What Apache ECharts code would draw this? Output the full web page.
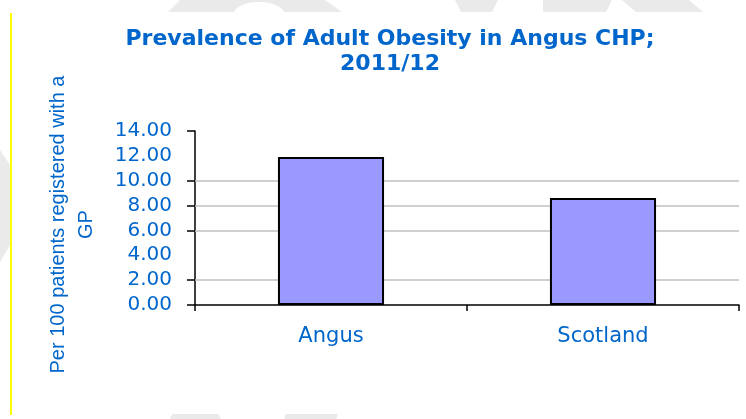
<!DOCTYPE html>
<html>
<head>
<meta charset="utf-8">
<title>Prevalence of Adult Obesity in Angus CHP; 2011/12</title>
<script src="https://cdn.jsdelivr.net/npm/echarts@6/dist/echarts.min.js"></script>
<style>
  html, body { margin: 0; padding: 0; background: #ffffff; }
  #chart { width: 746px; height: 419px; }
</style>
</head>
<body>
<div id="chart"></div>
<script>
// Adult obesity prevalence, per 100 patients registered with a GP (2011/12)
const categories = ['Angus', 'Scotland'];
const obesityRate = [11.9, 8.6];

// Value axis range, the values that carry tick marks and the drawn grid lines
const yMin = 0;
const yMax = 14;
const yStep = 2;
const yTickValues = [0, 2, 6, 8, 10, 14];
const gridValues = [2, 6, 8, 10];

const titleLines = ['Prevalence of Adult Obesity in Angus CHP;', '2011/12'];

const textBlue = '#0066CC';
const gridGrey = '#C0C0C0';
const watermark = '#EAEAEA';

const chart = echarts.init(document.getElementById('chart'), null, { renderer: 'canvas' });

chart.setOption({
  animation: false,
  backgroundColor: '#ffffff',
  title: {
    text: titleLines.join('\n'),
    left: 390,
    top: 27,
    padding: 0,
    textAlign: 'center',
    textStyle: {
      fontFamily: 'DejaVu Sans',
      fontWeight: 'bold',
      fontSize: 22,
      lineHeight: 25,
      color: textBlue
    }
  },
  graphic: [
    // faint background shapes of the slide
    { type: 'polygon', z: -10, shape: { points: [[168, 12], [180, 0], [325, 0], [342, 12]] }, style: { fill: watermark } },
    { type: 'ellipse', z: -9, shape: { cx: 259, cy: 15, rx: 26, ry: 13 }, style: { fill: '#ffffff' } },
    { type: 'polygon', z: -10, shape: { points: [[455, 0], [498, 0], [492, 12], [461, 12]] }, style: { fill: watermark } },
    { type: 'polygon', z: -10, shape: { points: [[543, 0], [612, 0], [606, 12], [543, 12]] }, style: { fill: watermark } },
    { type: 'polygon', z: -10, shape: { points: [[622, 0], [689, 0], [703, 12], [636, 12]] }, style: { fill: watermark } },
    { type: 'polygon', z: -10, shape: { points: [[0, 150], [10, 165], [10, 245], [0, 262]] }, style: { fill: watermark } },
    { type: 'polygon', z: -10, shape: { points: [[170, 419], [172, 414], [218, 414], [221, 419]] }, style: { fill: watermark } },
    { type: 'polygon', z: -10, shape: { points: [[284, 419], [286, 414], [338, 414], [336, 419]] }, style: { fill: watermark } },
    // yellow slide margin rule
    { type: 'rect', z: -5, shape: { x: 10, y: 13, width: 2, height: 402 }, style: { fill: '#FFFF00' } }
  ],
  grid: {
    left: 195,
    right: 7,
    top: 131,
    bottom: 114
  },
  xAxis: {
    type: 'category',
    data: categories,
    boundaryGap: true,
    axisLine: { show: true, lineStyle: { color: '#000000', width: 1.5 } },
    axisTick: { show: true, length: 6, inside: false, lineStyle: { color: '#000000', width: 1.5 } },
    axisLabel: {
      margin: 21,
      fontFamily: 'DejaVu Sans',
      fontSize: 21,
      color: textBlue
    },
    splitLine: { show: false }
  },
  yAxis: {
    type: 'value',
    min: yMin,
    max: yMax,
    interval: yStep,
    name: 'Per 100 patients registered with a\nGP',
    nameLocation: 'middle',
    nameGap: 95,
    nameTextStyle: {
      fontFamily: 'Liberation Sans',
      fontSize: 20,
      lineHeight: 28,
      color: textBlue,
      padding: [0, 13, 0, 0]
    },
    axisLine: { show: true, lineStyle: { color: '#000000', width: 1.5 } },
    axisTick: {
      show: true,
      length: 8,
      inside: false,
      customValues: yTickValues,
      lineStyle: { color: '#000000', width: 1.5 }
    },
    axisLabel: {
      margin: 23,
      fontFamily: 'DejaVu Sans',
      fontSize: 20,
      color: textBlue,
      formatter: function (v) { return v.toFixed(2); }
    },
    splitLine: { show: false }
  },
  series: [{
    type: 'bar',
    data: obesityRate,
    barWidth: '39%',
    z: 2,
    itemStyle: {
      color: '#9999FF',
      borderColor: '#000000',
      borderWidth: 2
    },
    // horizontal grid lines, kept beneath the bars
    markLine: {
      silent: true,
      z: 1,
      symbol: 'none',
      label: { show: false },
      lineStyle: { color: gridGrey, width: 1.5, type: 'solid' },
      data: gridValues.map(function (v) { return { yAxis: v }; })
    }
  }]
});
</script>
</body>
</html>
